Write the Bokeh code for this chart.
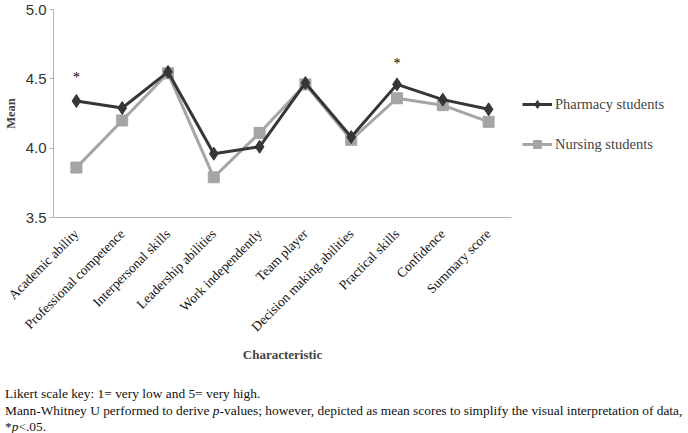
import math
from bokeh.plotting import figure
from bokeh.layouts import column
from bokeh.models import (FactorRange, FixedTicker, Legend, LegendItem, Div,
                          ColumnDataSource, Range1d, NumeralTickFormatter)
from bokeh.core.properties import value
from bokeh.embed import file_html
from bokeh.resources import INLINE

categories = ["Academic ability", "Professional competence", "Interpersonal skills",
              "Leadership abilities", "Work independently", "Team player",
              "Decision making abilities", "Practical skills", "Confidence",
              "Summary score"]
pharmacy = [4.34, 4.29, 4.55, 3.96, 4.01, 4.47, 4.08, 4.46, 4.35, 4.28]
nursing = [3.86, 4.20, 4.54, 3.79, 4.11, 4.46, 4.06, 4.36, 4.31, 4.19]
sig_categories = ["Academic ability", "Practical skills"]
sig_y = [4.51, 4.61]
y_ticks = [3.5, 4.0, 4.5, 5.0]

SERIF = "Liberation Serif"
SANS = "Liberation Sans"
PH_COL = "#363636"
NU_COL = "#a5a5a5"
AX_COL = "#b4b4b4"

p = figure(frame_width=458, frame_height=208,
           x_range=FactorRange(*categories, range_padding=0),
           y_range=Range1d(3.5, 5.0), output_backend="svg", toolbar_location=None,
           min_border_left=46, min_border_right=166, min_border_top=9,
           min_border_bottom=164)
p.outline_line_color = None
p.xgrid.grid_line_color = None
p.ygrid.grid_line_color = None

src = ColumnDataSource(dict(cat=categories, ph=pharmacy, nu=nursing))
l_nu = p.line("cat", "nu", source=src, line_color=NU_COL, line_width=3)
s_nu = p.scatter("cat", "nu", source=src, marker="square", size=11,
                 fill_color=NU_COL, line_color=NU_COL)
l_ph = p.line("cat", "ph", source=src, line_color=PH_COL, line_width=3)
s_ph = p.scatter("cat", "ph", source=src, marker="diamond", size=13,
                 fill_color=PH_COL, line_color=PH_COL)

p.text(x=sig_categories, y=sig_y, text=["*", "*"], text_align="center",
       text_baseline="middle", text_font=value(SERIF), text_font_size="14px",
       text_color="#000000")

# y axis
ya = p.yaxis[0]
ya.ticker = FixedTicker(ticks=y_ticks)
ya.formatter = NumeralTickFormatter(format="0.0")
ya.major_label_text_font = SANS
ya.major_label_text_font_size = "15px"
ya.major_label_text_color = "#333333"
ya.major_label_standoff = 3
ya.axis_line_color = AX_COL
ya.major_tick_line_color = AX_COL
ya.major_tick_out = 4
ya.major_tick_in = 0
ya.minor_tick_line_color = None
ya.axis_label = "Mean"
ya.axis_label_text_font = SERIF
ya.axis_label_text_font_style = "bold"
ya.axis_label_text_font_size = "12.5px"
ya.axis_label_standoff = 5

# x axis
xa = p.xaxis[0]
xa.axis_line_color = AX_COL
xa.major_tick_line_color = None
xa.minor_tick_line_color = None
xa.major_label_orientation = math.pi / 4
xa.major_label_text_font = SERIF
xa.major_label_text_font_size = "13.5px"
xa.major_label_text_color = "#111111"
xa.major_label_standoff = 8
xa.axis_label = "Characteristic"
xa.axis_label_text_font = SERIF
xa.axis_label_text_font_style = "bold"
xa.axis_label_text_font_size = "13px"
xa.axis_label_standoff = 4

legend = Legend(items=[LegendItem(label="Pharmacy students", renderers=[l_ph, s_ph]),
                       LegendItem(label="Nursing students", renderers=[l_nu, s_nu])],
                location=(11, 63), border_line_color=None, background_fill_alpha=0,
                label_text_font=SERIF, label_text_font_size="14.5px",
                glyph_width=30, glyph_height=20, label_height=20, spacing=20,
                label_standoff=3, padding=0, margin=0)
p.add_layout(legend, "right")

notes = Div(width=672, height=52, text=(
    "Likert scale key: 1= very low and 5= very high.<br>"
    "Mann-Whitney U performed to derive <i>p</i>-values; however, depicted as mean "
    "scores to simplify the visual interpretation of data,<br>*<i>p</i>&lt;.05."),
    styles={"font-family": "'Liberation Serif'", "font-size": "13.4px",
            "line-height": "16.5px", "color": "#111111", "white-space": "nowrap"})

layout = column(p, notes, spacing=0)
open("out.html", "w").write(file_html(layout, INLINE))
